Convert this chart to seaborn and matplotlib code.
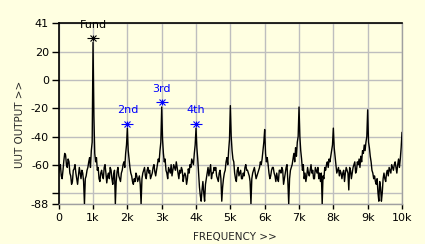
import numpy as np
import pandas as pd
import matplotlib
matplotlib.use("Agg")
import matplotlib.pyplot as plt
import seaborn as sns

freq_step = 25
level = [
    # 0 - 975
    -66, -62, -60, -68, -70, -64, -57, -52, -53, -60, -62, -56, -58, -66, -68, -74, -72, -64, -63, -60,
    -66, -70, -74, -68, -62, -66, -70, -64, -66, -72, -88, -70, -68, -64, -62, -58, -55, -62, -50, -44,
    # 1000 - 1975
    27, -25, -52, -58, -55, -64, -62, -70, -72, -66, -64, -68, -70, -62, -60, -66, -73, -68, -66, -70,
    -62, -64, -70, -74, -67, -64, -88, -72, -65, -62, -68, -70, -72, -66, -64, -60, -58, -62, -52, -46,
    # 2000 - 2975
    -34, -50, -56, -62, -66, -68, -72, -74, -70, -72, -66, -68, -72, -70, -68, -74, -88, -70, -66, -64,
    -62, -68, -70, -64, -62, -66, -64, -70, -68, -66, -62, -60, -65, -68, -64, -60, -56, -58, -50, -44,
    # 3000 - 3975
    -19, -42, -52, -58, -56, -64, -66, -70, -62, -64, -66, -60, -68, -64, -60, -62, -64, -58, -62, -66,
    -70, -64, -66, -62, -64, -72, -68, -66, -68, -74, -70, -63, -66, -60, -62, -56, -58, -60, -52, -46,
    # 4000 - 4975
    -34, -48, -56, -66, -76, -82, -86, -78, -72, -80, -86, -74, -70, -66, -62, -68, -64, -60, -70, -66,
    -66, -62, -64, -62, -68, -70, -72, -66, -64, -70, -86, -76, -70, -66, -64, -58, -55, -60, -50, -42,
    # 5000 - 5975
    -18, -40, -50, -56, -58, -66, -70, -72, -64, -62, -68, -66, -64, -70, -70, -66, -68, -62, -60, -64,
    -64, -66, -68, -72, -88, -70, -66, -64, -62, -66, -70, -68, -66, -64, -62, -58, -60, -56, -50, -44,
    # 6000 - 6975
    -35, -52, -58, -55, -60, -66, -70, -68, -64, -62, -62, -66, -68, -72, -66, -70, -72, -64, -64, -66,
    -62, -64, -74, -70, -66, -62, -60, -72, -88, -70, -64, -62, -60, -56, -52, -58, -48, -54, -44, -40,
    # 7000 - 7975
    -19, -40, -50, -56, -64, -60, -70, -66, -72, -68, -62, -66, -68, -64, -60, -66, -64, -70, -70, -62,
    -64, -66, -62, -70, -66, -72, -66, -88, -68, -70, -62, -64, -60, -58, -62, -56, -58, -54, -50, -46,
    # 8000 - 8975
    -34, -48, -54, -60, -66, -64, -62, -68, -64, -66, -70, -66, -64, -72, -66, -62, -64, -66, -78, -62,
    -64, -70, -66, -62, -60, -58, -66, -64, -58, -60, -56, -62, -54, -58, -50, -52, -46, -50, -44, -40,
    # 9000 - 9975
    -21, -44, -48, -54, -58, -64, -66, -70, -68, -72, -74, -70, -80, -86, -72, -76, -86, -80, -70, -66,
    -70, -72, -66, -64, -68, -62, -64, -66, -60, -62, -64, -60, -58, -62, -66, -60, -56, -62, -56, -48,
    # 10000
    -37,
]
freq = [i * freq_step for i in range(len(level))]

# Harmonic cursor markers
harm_names = ["Fund", "2nd", "3rd", "4th"]
harm_freq = [1000, 2000, 3000, 4000]
harm_marker = [30.1, -30.8, -15.4, -30.8]
harm_label_y = [39.5, -21.4, -6.4, -21.4]
harm_colors = ["black", "#0000FF", "#0000FF", "#0000FF"]

x_ticks = [0, 1000, 2000, 3000, 4000, 5000, 6000, 7000, 8000, 9000, 10000]
x_ticklabels = ["0", "1k", "2k", "3k", "4k", "5k", "6k", "7k", "8k", "9k", "10k"]
y_ticks = [41, 20, 0, -20, -40, -60, -80, -88]
y_ticklabels = ["41", "20", "0", "-20", "-40", "-60", "", "-88"]

bg = "#FFFFE1"
sns.set_style("white", {"axes.facecolor": bg, "figure.facecolor": bg})
plt.rcParams["font.family"] = ["DejaVu Sans"]

df = pd.DataFrame({"freq": freq, "level": level})

fig = plt.figure(figsize=(4.25, 2.44), dpi=100)
ax = fig.add_axes([58.7 / 425, 1 - 204 / 244, (402 - 58.7) / 425, (204 - 22.7) / 244])

sns.lineplot(data=df, x="freq", y="level", ax=ax, color="black", linewidth=1.0, zorder=3)

for name, f, m, ly, c in zip(harm_names, harm_freq, harm_marker, harm_label_y, harm_colors):
    ax.plot([f], [m], marker="x", color=c, markersize=4, markeredgewidth=0.8, zorder=5)
    ax.plot([f], [m], marker="_", color=c, markersize=8, markeredgewidth=0.8, zorder=5)
    ax.plot([f], [m], marker="|", color=c, markersize=4.5, markeredgewidth=0.8, zorder=5)
    ax.text(f, ly, name, color=c, ha="center", va="center", fontsize=8, zorder=6, clip_on=False)

ax.set_xlim(0, 10000)
ax.set_ylim(-88, 41)
ax.set_xticks(x_ticks)
ax.set_xticklabels(x_ticklabels)
ax.set_yticks(y_ticks)
ax.set_yticklabels(y_ticklabels)
ax.grid(True, color="#BEBEBE", linewidth=1.0, zorder=0)
ax.set_axisbelow(True)

ax.tick_params(axis="y", length=5, width=1, pad=2, labelsize=8, colors="black", direction="out", left=True)
ax.tick_params(axis="x", length=3.5, width=1, pad=3, labelsize=8, colors="black", direction="out", bottom=True)

for s in ["left", "top"]:
    ax.spines[s].set_color("black")
    ax.spines[s].set_linewidth(1.2)
for s in ["right", "bottom"]:
    ax.spines[s].set_color("#A0A0A0")
    ax.spines[s].set_linewidth(1.0)

ax.set_xlabel("FREQUENCY >>", fontsize=7.5, labelpad=2)
ax.set_ylabel("UUT OUTPUT >>", fontsize=7.5, labelpad=3)
ax.xaxis.set_label_coords((235 - 58.7) / (402 - 58.7), -(232 - 204) / (204 - 22.7))
ax.yaxis.set_label_coords(-(58.7 - 25) / (402 - 58.7), (204 - 124) / (204 - 22.7))

fig.savefig("out.png", dpi=100, facecolor=bg)
